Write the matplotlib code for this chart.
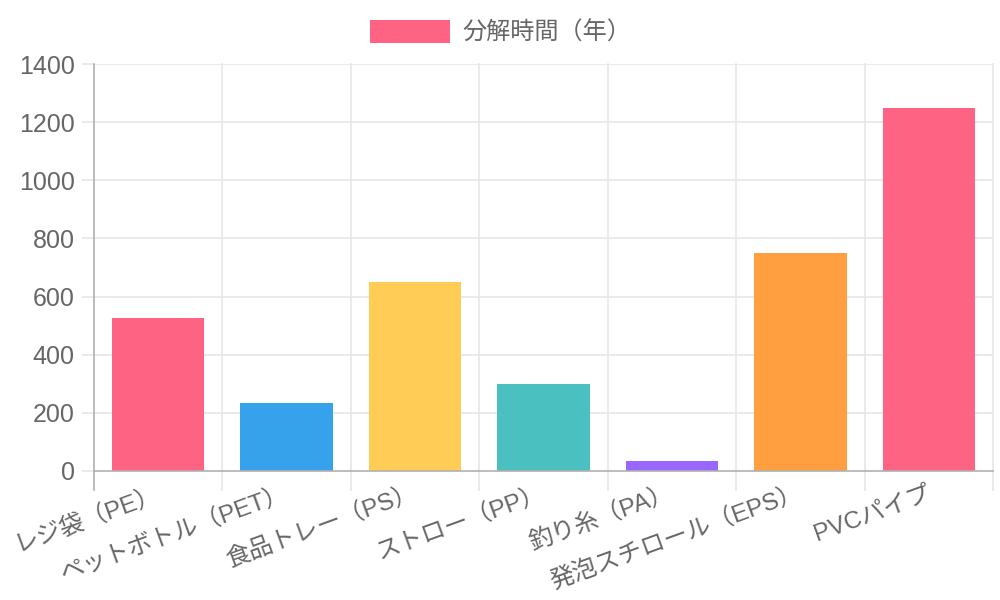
import matplotlib
matplotlib.use("Agg")
import matplotlib.pyplot as plt
from matplotlib.patches import Rectangle
from matplotlib.transforms import ScaledTranslation

plt.rcParams['font.family'] = ['Liberation Sans', 'Noto Sans CJK JP', 'DejaVu Sans']

categories = ["レジ袋（PE）", "ペットボトル（PET）", "食品トレー（PS）", "ストロー（PP）",
              "釣り糸（PA）", "発泡スチロール（EPS）", "PVCパイプ"]
values = [525, 235, 650, 300, 35, 750, 1250]
colors = ["#FF6384", "#36A2EB", "#FFCD56", "#4BC0C0", "#9966FF", "#FF9F40", "#FF6384"]
legend_label = "分解時間（年）"
yticks = [0, 200, 400, 600, 800, 1000, 1200, 1400]

W, H = 1000, 600
fig = plt.figure(figsize=(W / 100, H / 100), dpi=100)
left, right, top, bottom = 94, 993, 64, 471
ax = fig.add_axes([left / W, 1 - bottom / H, (right - left) / W, (bottom - top) / H])

x = list(range(len(categories)))
ax.bar(x, values, width=0.72, color=colors, zorder=2)

ax.set_xlim(-0.5, len(categories) - 0.5)
ax.set_ylim(0, 1400)
ax.set_yticks(yticks)
ax.set_yticklabels([str(v) for v in yticks])

grid_c = "#e6e6e6"
axis_c = "#b0b0b0"
txt_c = "#666666"

for v in yticks[1:]:
    ax.axhline(v, color=grid_c, lw=1.2, zorder=1)
bounds = [i - 0.5 for i in range(len(categories) + 1)]
for b in bounds[1:]:
    ax.plot([b, b], [0, 1], transform=ax.get_xaxis_transform(), color=grid_c, lw=1.2, zorder=1, clip_on=False)
for b in bounds:
    ax.plot([b, b], [-0.047, 0], transform=ax.get_xaxis_transform(),
            color=grid_c if b != bounds[0] else axis_c, lw=1.2, zorder=1, clip_on=False)

for s in ["top", "right"]:
    ax.spines[s].set_visible(False)
for s in ["left", "bottom"]:
    ax.spines[s].set_color(axis_c)
    ax.spines[s].set_linewidth(1.2)
ax.spines["bottom"].set_zorder(3)

ax.tick_params(axis="y", length=9, width=1.2, color=grid_c, labelsize=18, labelcolor=txt_c, pad=5)
ax.tick_params(axis="x", length=0, labelsize=17.5, labelcolor=txt_c)
ax.set_xticks(x)
ax.set_xticklabels(categories, rotation=20, ha="right", rotation_mode="anchor", va="center")
for lbl in ax.get_xticklabels():
    lbl.set_transform(lbl.get_transform() + ScaledTranslation(0.015, -0.17, fig.dpi_scale_trans))

# legend
fig.patches.append(Rectangle((370 / W, 1 - 43 / H), 80 / W, 23 / H, transform=fig.transFigure,
                             facecolor=colors[0], edgecolor="none"))
fig.text(462 / W, 1 - 33 / H, legend_label, fontsize=17.4, color=txt_c, va="center", ha="left")

fig.savefig("out.png", dpi=100)
